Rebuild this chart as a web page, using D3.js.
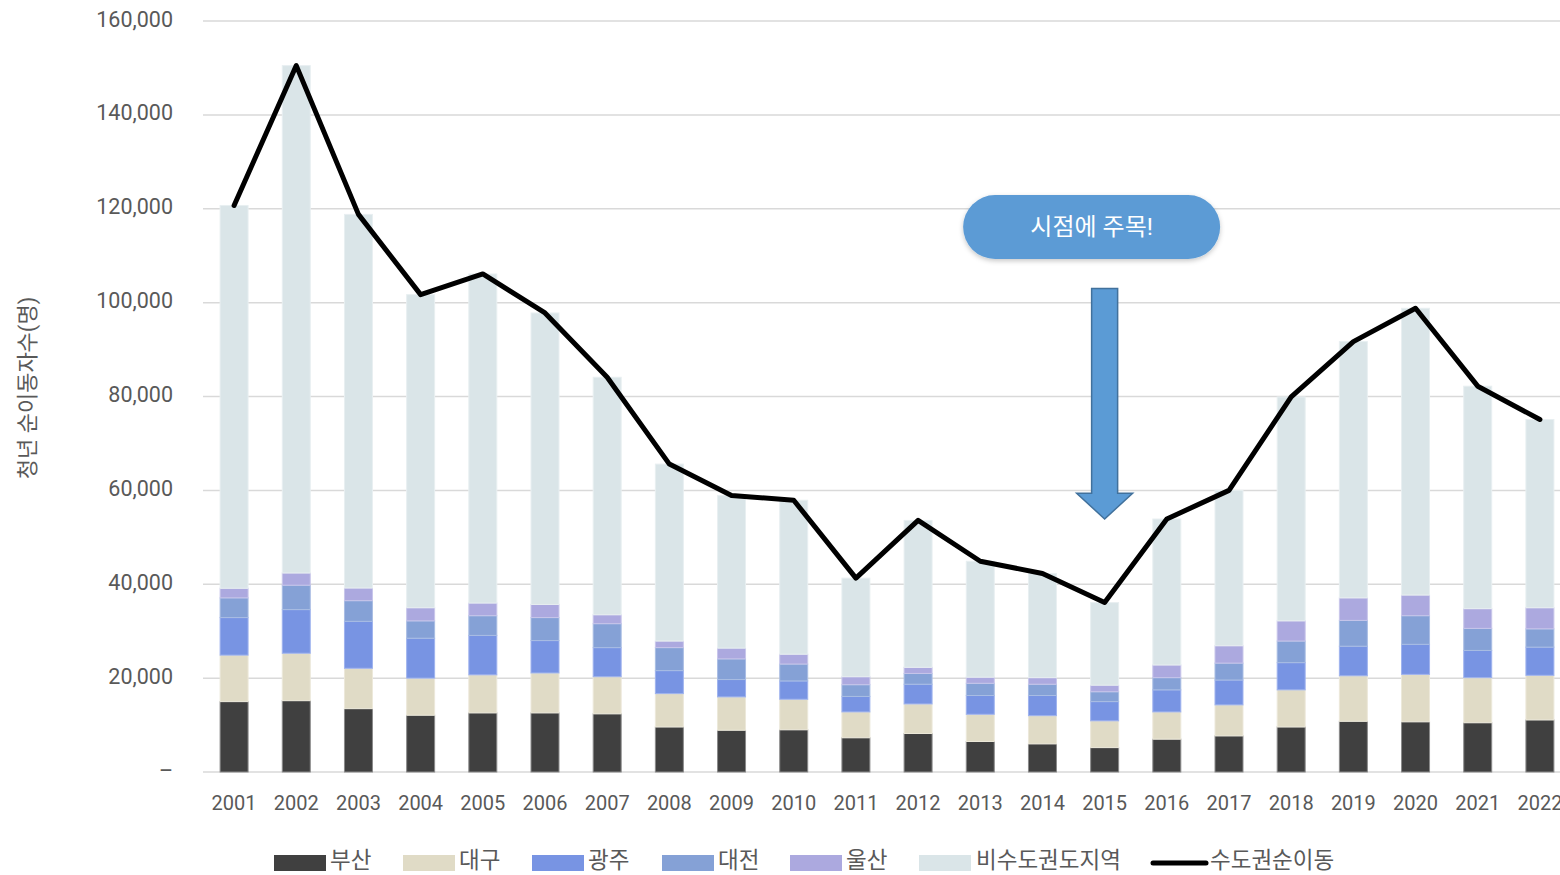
<!DOCTYPE html>
<html lang="ko">
<head>
<meta charset="utf-8">
<script src="https://cdn.jsdelivr.net/npm/d3@7"></script>
<style>
  html, body { margin: 0; padding: 0; background: #fff; overflow: hidden; }
  svg { display: block; }
  text { font-family: Roboto, "Noto Sans CJK KR", sans-serif; }
</style>
</head>
<body>
<svg id="chart" width="1560" height="875"></svg>
<script>
// 연도별 청년 순이동자수 (명)
const years = ["2001","2002","2003","2004","2005","2006","2007","2008","2009","2010","2011",
               "2012","2013","2014","2015","2016","2017","2018","2019","2020","2021","2022"];
const busan    = [15000,15200,13500,12100,12600,12600,12400, 9600, 8900, 9000, 7300, 8200, 6500, 6000, 5200, 7000, 7700, 9600,10800,10700,10500,11100];
const daegu    = [ 9900,10100, 8600, 7900, 8100, 8500, 7900, 7100, 7100, 6500, 5500, 6300, 5800, 6000, 5700, 5800, 6600, 7900, 9700,10100, 9600, 9500];
const gwangju  = [ 8000, 9300,10000, 8500, 8400, 6900, 6200, 4900, 3700, 3900, 3300, 4200, 4000, 4300, 4100, 4700, 5300, 5800, 6300, 6400, 5800, 6000];
const daejeon  = [ 4200, 5200, 4400, 3700, 4200, 4900, 5100, 4900, 4400, 3600, 2500, 2300, 2600, 2400, 2100, 2600, 3600, 4600, 5500, 6100, 4700, 3900];
const ulsan    = [ 2050, 2600, 2700, 2800, 2700, 2800, 1900, 1400, 2300, 2100, 1700, 1300, 1300, 1400, 1400, 2700, 3700, 4300, 4800, 4400, 4200, 4500];
const otherProvinces = [81550,108100,79600,66700,70100,62100,50600,37700,32500,32800,21000,31300,24700,22200,17600,31100,33100,47700,54600,61100,47400,40100];
const capitalNet = [120700,150500,118800,101700,106100,97800,84100,65600,58900,57900,41300,53600,44900,42300,36100,53900,60000,79900,91700,98800,82200,75100];

const yTicks = [0,20000,40000,60000,80000,100000,120000,140000,160000];

const seriesNames  = ["부산","대구","광주","대전","울산","비수도권도지역"];
const seriesValues = [busan, daegu, gwangju, daejeon, ulsan, otherProvinces];
const seriesColors = ["#404040","#e0dbc6","#7894e3","#85a1d6","#aca9df","#dae5e8"];
const seriesStroke = ["#8a8a8a","#ece8da","#9fb3ee","#a9bde3","#c8c6ea","#e8eff1"];
const lineName = "수도권순이동";

// 강조 표시 (2015년)
const calloutYear = "2015";
const calloutText = "시점에 주목!";

const svg = d3.select("#chart");

const x = d3.scaleBand().domain(years).range([203, 1571]).paddingInner(0.55).paddingOuter(0.275);
const y = d3.scaleLinear().domain([0, 160000]).range([772, 21]);

const table = years.map((yr, i) => {
  const row = { year: yr };
  seriesNames.forEach((n, k) => row[n] = seriesValues[k][i]);
  return row;
});
const stacked = d3.stack().keys(seriesNames)(table);

// 눈금선
svg.append("g").selectAll("line").data(yTicks).join("line")
  .attr("x1", 203).attr("x2", 1560)
  .attr("y1", d => y(d)).attr("y2", d => y(d))
  .attr("stroke", "#d9d9d9").attr("stroke-width", 1.5);

// y축 눈금 라벨
svg.append("g").selectAll("text").data(yTicks).join("text")
  .attr("x", 173).attr("y", d => y(d) - 2)
  .attr("text-anchor", "end").attr("dominant-baseline", "central")
  .attr("font-size", 21.5).attr("fill", "#595959")
  .text(d => d === 0 ? "–" : d3.format(",")(d));

// y축 제목
svg.append("text")
  .attr("transform", "translate(27,388) rotate(-90)")
  .attr("text-anchor", "middle").attr("dominant-baseline", "central")
  .attr("font-size", 22).attr("fill", "#595959")
  .attr("font-family", "'Noto Sans CJK KR', sans-serif")
  .text("청년 순이동자수(명)");

// 누적 막대
svg.append("g").selectAll("g").data(stacked).join("g")
  .attr("fill", (d, i) => seriesColors[i])
  .attr("stroke", (d, i) => seriesStroke[i])
  .attr("stroke-width", 1)
  .selectAll("rect").data(d => d).join("rect")
  .attr("x", d => x(d.data.year))
  .attr("width", x.bandwidth())
  .attr("y", d => y(d[1]))
  .attr("height", d => y(d[0]) - y(d[1]));

// x축 라벨
svg.append("g").selectAll("text").data(years).join("text")
  .attr("x", d => x(d) + x.bandwidth() / 2).attr("y", 803)
  .attr("text-anchor", "middle").attr("dominant-baseline", "central")
  .attr("font-size", 20).attr("fill", "#595959")
  .text(d => d);

// 수도권 순이동 꺾은선
const line = d3.line()
  .x((d, i) => x(years[i]) + x.bandwidth() / 2)
  .y(d => y(d));
svg.append("path").datum(capitalNet)
  .attr("d", line)
  .attr("fill", "none").attr("stroke", "#000").attr("stroke-width", 5)
  .attr("stroke-linejoin", "round").attr("stroke-linecap", "round");

// 말풍선과 화살표
const defs = svg.append("defs");
const shadow = defs.append("filter").attr("id", "soft").attr("x", "-10%").attr("y", "-20%").attr("width", "120%").attr("height", "150%");
shadow.append("feDropShadow").attr("dx", 0).attr("dy", 2).attr("stdDeviation", 2.5)
  .attr("flood-color", "#000").attr("flood-opacity", 0.22);

const cx = x(calloutYear) + x.bandwidth() / 2;
const pillCx = cx - 13, pillW = 257, pillH = 64;
const pillCy = y(116100);
svg.append("rect")
  .attr("x", pillCx - pillW / 2).attr("y", pillCy - pillH / 2)
  .attr("width", pillW).attr("height", pillH)
  .attr("rx", pillH / 2).attr("ry", pillH / 2)
  .attr("fill", "#5b9bd5").attr("filter", "url(#soft)");
svg.append("text")
  .attr("x", pillCx).attr("y", pillCy)
  .attr("text-anchor", "middle").attr("dominant-baseline", "central")
  .attr("font-size", 24).attr("fill", "#fff")
  .attr("font-family", "'Noto Sans CJK KR', sans-serif")
  .text(calloutText);

const aTop = y(103000), aNeck = y(59400), aTip = y(53900);
const shaftHalf = 13, headHalf = 28;
const arrowPts = [
  [cx - shaftHalf, aTop], [cx + shaftHalf, aTop], [cx + shaftHalf, aNeck],
  [cx + headHalf, aNeck], [cx, aTip], [cx - headHalf, aNeck], [cx - shaftHalf, aNeck]
];
svg.append("path")
  .attr("d", d3.line()(arrowPts) + "Z")
  .attr("fill", "#5b9bd5").attr("stroke", "#41719c").attr("stroke-width", 1.5);

// 범례
const legendItems = [
  { name: "부산", sx: 274, tx: 330 },
  { name: "대구", sx: 403, tx: 459 },
  { name: "광주", sx: 532, tx: 588 },
  { name: "대전", sx: 662, tx: 718 },
  { name: "울산", sx: 790, tx: 846 },
  { name: "비수도권도지역", sx: 919, tx: 976 }
];
const lg = svg.append("g");
legendItems.forEach((it, i) => {
  lg.append("rect").attr("x", it.sx).attr("y", 855).attr("width", 52).attr("height", 16)
    .attr("fill", seriesColors[i]);
  lg.append("text").attr("x", it.tx).attr("y", 860)
    .attr("dominant-baseline", "central").attr("font-size", 22.5).attr("fill", "#595959")
    .attr("font-family", "'Noto Sans CJK KR', sans-serif")
    .text(it.name);
});
lg.append("line").attr("x1", 1153).attr("x2", 1206).attr("y1", 863).attr("y2", 863)
  .attr("stroke", "#000").attr("stroke-width", 5).attr("stroke-linecap", "round");
lg.append("text").attr("x", 1210).attr("y", 860)
  .attr("dominant-baseline", "central").attr("font-size", 22.5).attr("fill", "#595959")
  .attr("font-family", "'Noto Sans CJK KR', sans-serif")
  .text(lineName);
</script>
</body>
</html>
